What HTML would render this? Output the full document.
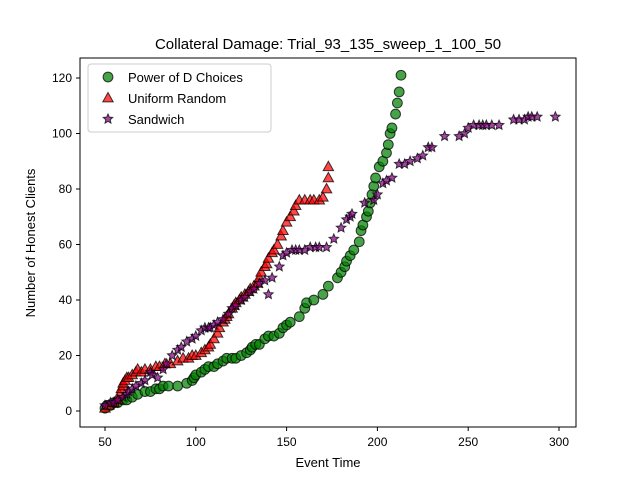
<!DOCTYPE html>
<html><head><meta charset="utf-8"><style>body{margin:0;background:#fff}svg{display:block;font-family:"Liberation Sans","DejaVu Sans",sans-serif}</style></head>
<body>
<svg id="c" width="640" height="480">
<rect x="0" y="0" width="640" height="480" fill="#fff"/>
<text x="328" y="49" text-anchor="middle" font-size="15">Collateral Damage: Trial_93_135_sweep_1_100_50</text>
<text x="328" y="467" text-anchor="middle" font-size="13">Event Time</text>
<text transform="translate(35,243) rotate(-90)" text-anchor="middle" font-size="13">Number of Honest Clients</text>
<g id="ticks"></g>
<g id="marks"></g>
<rect x="80" y="58" width="496" height="369" fill="none" stroke="#000" stroke-width="1"/>
<g id="legend"></g>
</svg>
<script>
const xTicks=[50,100,150,200,250,300];
const yTicks=[0,20,40,60,80,100,120];
const powerX=[50,51,53,55,57,60,62,65,68,72,75,78,80,82,85,90,95,98,99,100,103,105,107,110,112,115,117,120,122,125,128,130,131,133,135,138,140,143,146,148,150,152,157,160,161,165,170,173,178,180,182,183,185,187,190,191,192,194,195,196,197,198,199,201,203,205,206,207,208,210,211,212,213];
const powerY=[1,2,2,3,3,4,4,5,6,7,7,8,8,9,9,9,10,11,12,13,14,15,16,16,17,18,19,19,19,20,21,22,23,24,24,26,27,27,28,30,31,32,34,37,39,40,42,45,48,50,52,54,56,58,61,65,67,70,72,75,78,81,84,88,90,93,96,100,102,107,111,115,121];
const uniformX=[50,52,55,57,58,59,60,60,61,62,63,65,67,68,70,72,75,78,80,83,86,90,93,96,98,100,103,105,107,108,110,112,113,115,116,117,118,120,121,122,124,125,127,129,130,132,134,135,136,138,139,140,142,143,145,147,148,150,152,154,155,157,160,163,165,168,170,172,173,173];
const uniformY=[1,2,3,4,6,8,9,10,11,12,12,13,14,15,14,15,15,16,16,17,17,18,19,19,20,20,21,22,23,24,26,28,30,32,33,34,35,37,38,39,40,41,42,43,44,45,46,48,50,52,53,55,57,58,60,63,65,68,70,72,74,76,76,76,76,76,77,80,84,88];
const sandX=[50,53,55,57,60,62,63,65,67,70,72,75,76,79,82,84,87,90,92,95,98,100,103,105,107,108,110,112,115,118,120,122,125,127,130,132,135,138,140,142,146,148,150,153,155,157,160,163,166,168,172,176,180,183,185,186,193,198,200,203,205,208,212,215,218,222,225,228,230,237,245,248,250,253,256,258,260,263,267,275,278,281,283,285,288,298];
const sandY=[2,3,3,4,5,6,7,8,9,10,11,14,13,12,15,17,20,22,23,25,26,27,29,30,30,30,31,32,33,35,37,38,40,41,43,44,46,47,42,48,52,56,57,58,58,58,58,59,59,59,59,62,66,69,70,71,75,76,78,82,83,84,89,89,90,91,92,95,95,99,99,100,102,103,103,103,103,103,103,105,105,105,106,106,106,106];
const NS='http://www.w3.org/2000/svg';
const X=v=>105+(v-50)*1.816;
const Y=v=>411-v*2.775;
function mk(t,a,p){const e=document.createElementNS(NS,t);for(const k in a)e.setAttribute(k,a[k]);p.appendChild(e);return e;}
const tg=document.getElementById('ticks');
xTicks.forEach(v=>{
 const l=mk('line',{x1:X(v),x2:X(v),y1:427,y2:431,stroke:'#000'},tg);
 
 
 const t=mk('text',{x:X(v),y:446,'text-anchor':'middle','font-size':'12'},tg);t.textContent=v;
 
 
});
yTicks.forEach(v=>{
 const l=mk('line',{x1:76,x2:80,y1:Y(v),y2:Y(v),stroke:'#000'},tg);
 
 
 const t=mk('text',{x:72,y:Y(v)+4,'text-anchor':'end','font-size':'12'},tg);t.textContent=v;
 
 
});
const styles={
 circle:{fill:'#008000'},tri:{fill:'#ff0000'},star:{fill:'#800080'}};
function marker(kind,cx,cy,p,s){
 s=s||1;let e;
 if(kind==='circle')e=mk('circle',{cx:cx,cy:cy,r:4.9*s},p);
 else if(kind==='tri'){const r=5.5*s;e=mk('polygon',{points:`${cx},${cy-r} ${cx-r*0.95},${cy+r*0.7} ${cx+r*0.95},${cy+r*0.7}`},p);}
 else{let pts=[];for(let i=0;i<10;i++){const a=-Math.PI/2+i*Math.PI/5;const r=(i%2?2.3:5)*s;pts.push((cx+r*Math.cos(a)).toFixed(2)+','+(cy+r*Math.sin(a)).toFixed(2));}e=mk('polygon',{points:pts.join(' ')},p);}
 e.setAttribute('fill',styles[kind].fill);e.setAttribute('fill-opacity','0.72');e.setAttribute('stroke','#000');e.setAttribute('stroke-opacity','0.75');e.setAttribute('stroke-width','1');
 return e;
}
const mg=document.getElementById('marks');
const series=[['circle',powerX,powerY,'power-of-d-point'],['tri',uniformX,uniformY,'uniform-random-point'],['star',sandX,sandY,'sandwich-point']];
series.forEach(([k,xs,ys,n])=>{
 const g=mk('g',{},mg);
 xs.forEach((x,i)=>{
  const m=marker(k,X(x),Y(ys[i]),g);
  
  
 });
});
const lg=document.getElementById('legend');
mk('rect',{x:88,y:64,width:183,height:68,rx:3,fill:'#fff','fill-opacity':'0.8',stroke:'#ccc'},lg);
const labels=['Power of D Choices','Uniform Random','Sandwich'];
['circle','tri','star'].forEach((k,i)=>{
 const y=77+i*21;
 const m=marker(k,108,y,lg);
 
 
 const t=mk('text',{x:128,y:y+5,'font-size':'13'},lg);t.textContent=labels[i];
 
 
});
</script>
</body></html>
